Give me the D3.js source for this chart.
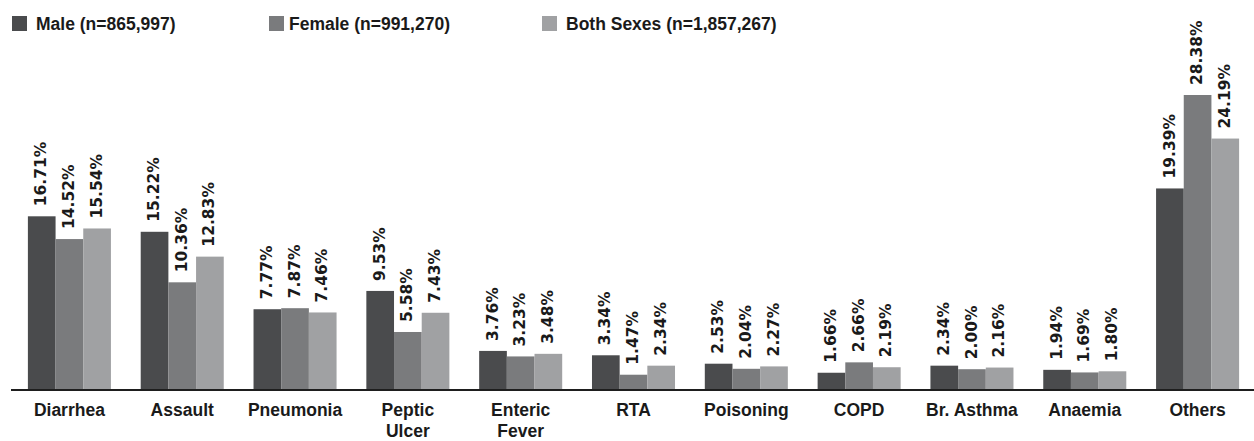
<!DOCTYPE html>
<html>
<head>
<meta charset="utf-8">
<script src="https://cdn.jsdelivr.net/npm/d3@7/dist/d3.min.js"></script>
<style>
  html, body { margin: 0; padding: 0; background: #ffffff; }
  svg { display: block; }
</style>
</head>
<body>
<svg id="chart" width="1254" height="441"></svg>
<script>
// Share of admissions by diagnosis, per sex (%)
const categories = ["Diarrhea", "Assault", "Pneumonia", "Peptic\nUlcer", "Enteric\nFever",
                    "RTA", "Poisoning", "COPD", "Br. Asthma", "Anaemia", "Others"];
const male   = [16.71, 15.22, 7.77, 9.53, 3.76, 3.34, 2.53, 1.66, 2.34, 1.94, 19.39];
const female = [14.52, 10.36, 7.87, 5.58, 3.23, 1.47, 2.04, 2.66, 2.00, 1.69, 28.38];
const both   = [15.54, 12.83, 7.46, 7.43, 3.48, 2.34, 2.27, 2.19, 2.16, 1.80, 24.19];
const seriesNames = ["Male (n=865,997)", "Female (n=991,270)", "Both Sexes (n=1,857,267)"];
const seriesKeys = ["male", "female", "both"];
const seriesValues = [male, female, both];
const colors = ["#4a4b4d", "#7a7b7d", "#a0a1a3"];

const svg = d3.select("#chart");
const baseY = 390;

const x0 = d3.scaleBand()
  .domain(categories)
  .range([13, 1254])
  .paddingInner(0.264)
  .paddingOuter(0.132);

const x1 = d3.scaleBand()
  .domain(seriesKeys)
  .range([0, x0.bandwidth()])
  .padding(0);

const y = d3.scaleLinear()
  .domain([0, 28.38])
  .range([baseY, 95]);

const color = d3.scaleOrdinal().domain(seriesKeys).range(colors);

const rows = categories.map((c, i) => ({
  category: c,
  values: seriesKeys.map((k, j) => ({ key: k, value: seriesValues[j][i] }))
}));

const groups = svg.append("g")
  .selectAll("g")
  .data(rows)
  .join("g")
  .attr("transform", d => `translate(${x0(d.category)},0)`);

groups.selectAll("rect")
  .data(d => d.values)
  .join("rect")
  .attr("x", d => x1(d.key))
  .attr("y", d => y(d.value))
  .attr("width", x1.bandwidth())
  .attr("height", d => baseY - y(d.value))
  .attr("fill", d => color(d.key));

// rotated value labels above each bar
groups.selectAll("text.val")
  .data(d => d.values)
  .join("text")
  .attr("class", "val")
  .attr("transform", d => `translate(${x1(d.key) + x1.bandwidth() / 2 - 1},${y(d.value) - 10}) rotate(-90)`)
  .attr("dy", "0.36em")
  .attr("text-anchor", "start")
  .attr("font-family", "'DejaVu Sans', sans-serif")
  .attr("font-weight", "bold")
  .attr("font-size", "15.5px")
  .attr("fill", "#1a1a1a")
  .text(d => d.value.toFixed(2) + "%");

// x axis line
svg.append("line")
  .attr("x1", 11).attr("x2", 1254)
  .attr("y1", baseY).attr("y2", baseY)
  .attr("stroke", "#1e1e1e")
  .attr("stroke-width", 2);

// category labels (may span two lines)
const catText = svg.append("g")
  .selectAll("text")
  .data(categories)
  .join("text")
  .attr("x", d => x0(d) + x0.bandwidth() / 2)
  .attr("y", 416)
  .attr("text-anchor", "middle")
  .attr("font-family", "'Liberation Sans', Arial, sans-serif")
  .attr("font-weight", "bold")
  .attr("font-size", "17.5px")
  .attr("fill", "#1a1a1a");

catText.selectAll("tspan")
  .data(d => d.split("\n").map(t => ({ t, cx: x0(d) + x0.bandwidth() / 2 })))
  .join("tspan")
  .attr("x", d => d.cx)
  .attr("dy", (d, i) => i === 0 ? 0 : 21)
  .text(d => d.t);

// legend
const legendX = [12, 269, 542];
const legend = svg.append("g")
  .selectAll("g")
  .data(seriesNames)
  .join("g")
  .attr("transform", (d, i) => `translate(${legendX[i]},16)`);

legend.append("rect")
  .attr("width", 15).attr("height", 15)
  .attr("fill", (d, i) => colors[i]);

legend.append("text")
  .attr("x", (d, i) => i === 1 ? 20 : 24)
  .attr("y", 14)
  .attr("font-family", "'Liberation Sans', Arial, sans-serif")
  .attr("font-weight", "bold")
  .attr("font-size", "17.5px")
  .attr("fill", "#1a1a1a")
  .text(d => d);
</script>
</body>
</html>
